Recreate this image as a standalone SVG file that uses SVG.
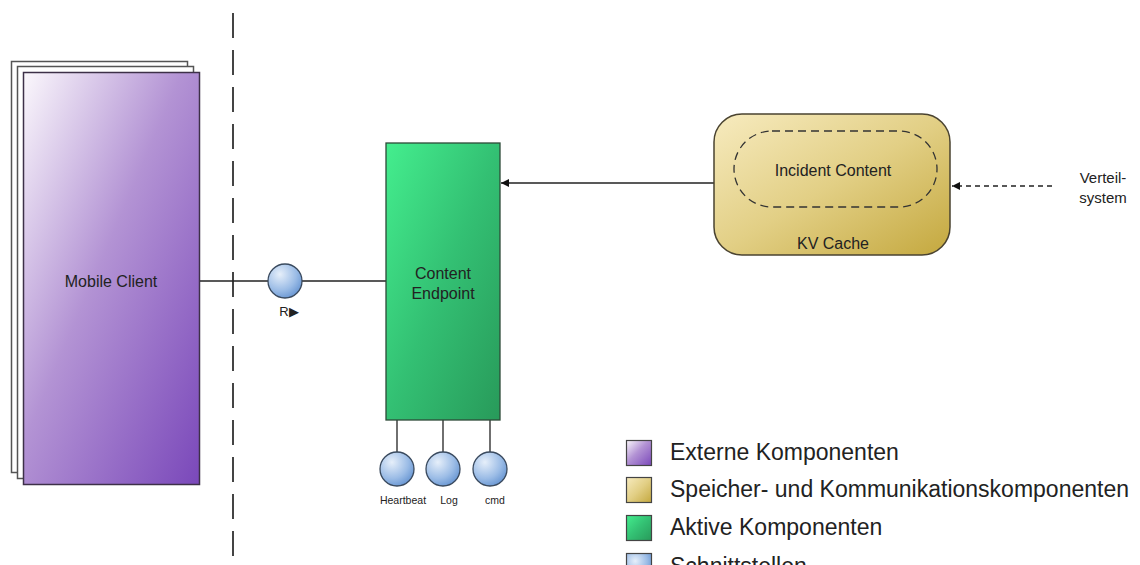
<svg xmlns="http://www.w3.org/2000/svg" width="1140" height="565" viewBox="0 0 1140 565">
  <defs>
    <linearGradient id="gPurple" x1="0" y1="0" x2="1" y2="1">
      <stop offset="0" stop-color="#fbf8fc"/>
      <stop offset="0.45" stop-color="#b393d4"/>
      <stop offset="1" stop-color="#7a48ba"/>
    </linearGradient>
    <linearGradient id="gGreen" x1="0" y1="0" x2="1" y2="1">
      <stop offset="0" stop-color="#44ee8e"/>
      <stop offset="0.5" stop-color="#33c073"/>
      <stop offset="1" stop-color="#289a5a"/>
    </linearGradient>
    <linearGradient id="gGold" x1="0" y1="0" x2="1" y2="1">
      <stop offset="0" stop-color="#f7ebbf"/>
      <stop offset="0.5" stop-color="#e2cf85"/>
      <stop offset="1" stop-color="#c4a83e"/>
    </linearGradient>
    <radialGradient id="gBlue" cx="0.35" cy="0.3" r="0.8">
      <stop offset="0" stop-color="#e6effa"/>
      <stop offset="0.6" stop-color="#9bbce6"/>
      <stop offset="1" stop-color="#5f8fcf"/>
    </radialGradient>
    <marker id="arrow" viewBox="0 0 10 10" refX="10" refY="5" markerWidth="10" markerHeight="8" markerUnits="userSpaceOnUse" orient="auto">
      <path d="M0,0 L10,5 L0,10 z" fill="#111"/>
    </marker>
  </defs>
  <style>
    .lbl { font-family: "Liberation Sans", Arial, sans-serif; fill: #222; }
    .conn { stroke: #222; stroke-width: 1.3; fill: none; }
    .port { fill: url(#gBlue); stroke: #3a4a5e; stroke-width: 1.3; }
    .legend { font-family: "Liberation Sans", Arial, sans-serif; font-size: 23px; fill: #222; }
  </style>
  <rect width="1140" height="565" fill="#ffffff"/>

  <!-- system boundary -->
  <line x1="233" y1="13" x2="233" y2="565" stroke="#444" stroke-width="2" stroke-dasharray="25 12"/>

  <!-- connectors -->
  <g id="connectors">
    <line class="conn" x1="200" y1="281" x2="268" y2="281"/>
    <line class="conn" x1="302" y1="281" x2="386" y2="281"/>
    <line class="conn" x1="397" y1="420" x2="397" y2="452"/>
    <line class="conn" x1="443" y1="420" x2="443" y2="452"/>
    <line class="conn" x1="490" y1="420" x2="490" y2="452"/>
    <line class="conn" x1="714" y1="183" x2="501" y2="183" marker-end="url(#arrow)"/>
    <line class="conn" x1="1052" y1="186" x2="952" y2="186" stroke-dasharray="5 4" marker-end="url(#arrow)"/>
  </g>

  <!-- Mobile Client (multi-instance stack) -->
  <g id="mobile-client">
    <rect x="11.5" y="61.5" width="176" height="411" fill="#fff" stroke="#555" stroke-width="1.5"/>
    <rect x="17.5" y="66.5" width="176" height="412" fill="#fff" stroke="#555" stroke-width="1.5"/>
    <rect x="23.5" y="72.5" width="176" height="412" fill="url(#gPurple)" stroke="#3d3048" stroke-width="1.5"/>
    <text class="lbl" x="111" y="287" font-size="16" text-anchor="middle" fill="#2a1a3a">Mobile Client</text>
  </g>

  <!-- R interface -->
  <g id="port-r">
    <circle class="port" cx="285" cy="281" r="17"/>
    <text class="lbl" x="289" y="316" font-size="13" text-anchor="middle">R▶</text>
  </g>

  <!-- Content Endpoint -->
  <g id="content-endpoint">
    <rect x="386" y="143" width="114" height="277" fill="url(#gGreen)" stroke="#2d4a38" stroke-width="1.3"/>
    <text class="lbl" x="443" y="279" font-size="16" text-anchor="middle" fill="#0f3d22">Content</text>
    <text class="lbl" x="443" y="299" font-size="16" text-anchor="middle" fill="#0f3d22">Endpoint</text>
  </g>

  <!-- bottom interfaces -->
  <g id="port-heartbeat">
    <circle class="port" cx="397" cy="469" r="17"/>
    <text class="lbl" x="403" y="504" font-size="10.5" text-anchor="middle">Heartbeat</text>
  </g>
  <g id="port-log">
    <circle class="port" cx="443" cy="469" r="17"/>
    <text class="lbl" x="449" y="504" font-size="10.5" text-anchor="middle">Log</text>
  </g>
  <g id="port-cmd">
    <circle class="port" cx="490" cy="469" r="17"/>
    <text class="lbl" x="495" y="504" font-size="10.5" text-anchor="middle">cmd</text>
  </g>

  <!-- KV Cache -->
  <g id="kv-cache">
    <rect x="714" y="114" width="236" height="141" rx="28" fill="url(#gGold)" stroke="#4a4330" stroke-width="1.5"/>
    <rect x="734" y="131" width="203" height="76" rx="38" fill="none" stroke="#333" stroke-width="1.3" stroke-dasharray="8 5"/>
    <text class="lbl" x="833" y="176" font-size="16" text-anchor="middle">Incident Content</text>
    <text class="lbl" x="833" y="249" font-size="16" text-anchor="middle">KV Cache</text>
  </g>

  <!-- external source label -->
  <g id="verteilsystem">
    <text class="lbl" x="1103" y="183" font-size="15" text-anchor="middle">Verteil-</text>
    <text class="lbl" x="1103" y="203" font-size="15" text-anchor="middle">system</text>
  </g>

  <!-- legend -->
  <g id="legend">
    <rect x="626.5" y="440.5" width="25" height="25" fill="url(#gPurple)" stroke="#444" stroke-width="1.2"/>
    <text class="legend" x="670" y="460">Externe Komponenten</text>
    <rect x="626.5" y="477.5" width="25" height="25" fill="url(#gGold)" stroke="#444" stroke-width="1.2"/>
    <text class="legend" x="670" y="497">Speicher- und Kommunikationskomponenten</text>
    <rect x="626.5" y="515.5" width="25" height="25" fill="url(#gGreen)" stroke="#444" stroke-width="1.2"/>
    <text class="legend" x="670" y="535">Aktive Komponenten</text>
    <rect x="626.5" y="553.5" width="25" height="25" fill="url(#gBlue)" stroke="#444" stroke-width="1.2"/>
    <text class="legend" x="670" y="574">Schnittstellen</text>
  </g>
</svg>
